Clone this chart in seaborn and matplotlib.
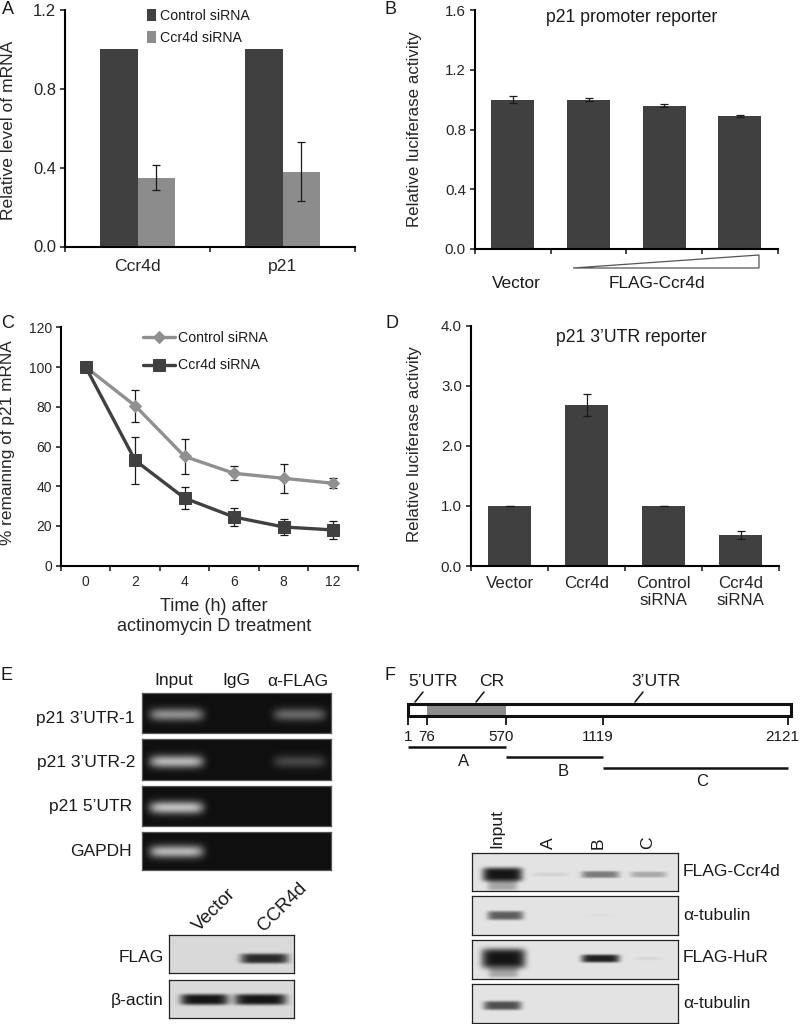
import numpy as np
import pandas as pd
import matplotlib
matplotlib.use("Agg")
import matplotlib.pyplot as plt
from matplotlib.lines import Line2D
from matplotlib.patches import Polygon, Rectangle
from matplotlib.transforms import Affine2D
import seaborn as sns

sns.set_style("white")
plt.rcParams["font.family"] = ["Liberation Sans", "DejaVu Sans"]
plt.rcParams["text.color"] = "#1a1a1a"

# panel A
genes = ["Ccr4d", "p21"]
a_control = [1.0, 1.0]
a_knockdown = [0.35, 0.38]
a_knockdown_err = [0.065, 0.15]

# panel B
b_groups = ["Vector", "Low", "Mid", "High"]
b_values = [1.0, 1.0, 0.96, 0.89]
b_err = [0.025, 0.008, 0.012, 0.006]

# panel C
hours = ["0", "2", "4", "6", "8", "12"]
c_control = [100, 80.5, 55, 46.5, 44, 41.5]
c_control_err = [0, 8, 8.7, 3.5, 7.3, 2.5]
c_knockdown = [100, 53, 34, 24.5, 19.5, 18]
c_knockdown_err = [0, 12, 5.5, 4.5, 3.8, 4.5]

# panel D
d_groups = ["Vector", "Ccr4d", "Control\nsiRNA", "Ccr4d\nsiRNA"]
d_values = [1.0, 2.68, 1.0, 0.52]
d_err = [0.005, 0.18, 0.005, 0.07]

# panel E, band strength per gel row: input lane, FLAG lane
e_rows = ["p21 3\u2019UTR-1", "p21 3\u2019UTR-2", "p21 5\u2019UTR", "GAPDH"]
e_input = [0.52, 0.68, 0.72, 0.68]
e_flag = [0.36, 0.22, 0.0, 0.0]
e_vector_flag = [0.0, 0.9]
e_actin = [1.0, 1.0]

# panel F, nucleotide sites and where they sit along the drawn bar
f_sites = [1, 76, 570, 1119, 2121]
f_site_px = [408, 427, 506, 603, 788]
f_ccr4d = [1.0, 0.08, 0.5, 0.28]
f_tub1 = [0.65, 0.0, 0.02, 0.0]
f_hur = [1.0, 0.0, 0.95, 0.05]
f_tub2 = [0.72, 0.0, 0.0, 0.0]

DARK = "#404040"
LIGHT = "#8c8c8c"

fig = plt.figure(figsize=(8, 10.24), dpi=100)
pxt = Affine2D().scale(1 / 800, -1 / 1024).translate(0, 1) + fig.transFigure


def px_axes(left, top, right, bottom):
    return fig.add_axes([left / 800, 1 - bottom / 1024, (right - left) / 800, (bottom - top) / 1024])


def txt(x, y, s, size=12.6, ha="center", **kw):
    fig.text(x, y, s, transform=pxt, fontsize=size, ha=ha, va="center", **kw)


def style_axes(ax, ylim, yticks, tick_size, n_groups, xpad):
    sns.despine(ax=ax)
    ax.set_ylim(*ylim)
    ax.set_xlim(-0.5, n_groups - 0.5)
    ax.set_yticks(yticks)
    ax.set_yticklabels([("%.1f" % t) if ylim[1] < 10 else str(t) for t in yticks])
    ax.set_xticks(np.arange(n_groups + 1) - 0.5, minor=True)
    for side in ["left", "bottom"]:
        ax.spines[side].set_color("black")
        ax.spines[side].set_linewidth(1.5)
    ax.tick_params(axis="y", direction="out", left=True, length=3.5, width=1.2, labelsize=tick_size, pad=3)
    ax.tick_params(axis="x", which="major", bottom=False, length=0, pad=xpad)
    ax.tick_params(axis="x", which="minor", bottom=True, direction="out", length=3.5, width=1.2)
    ax.set_xlabel("")


def add_errs(ax, container, errs):
    xs = [b.get_x() + b.get_width() / 2 for b in container]
    ys = [b.get_height() for b in container]
    ax.errorbar(xs, ys, yerr=errs, fmt="none", ecolor="#1a1a1a", elinewidth=0.9, capsize=2.6, capthick=0.9, zorder=5)


# A
ax = px_axes(65, 10, 355, 246.5)
df_a = pd.DataFrame({
    "gene": genes * 2,
    "level": a_control + a_knockdown,
    "treat": ["Control siRNA"] * 2 + ["Ccr4d siRNA"] * 2,
})
sns.barplot(data=df_a, x="gene", y="level", hue="treat", palette=[DARK, LIGHT], width=0.524, gap=0,
            errorbar=None, linewidth=0, ax=ax)
add_errs(ax, ax.containers[1], a_knockdown_err)
style_axes(ax, (0, 1.2), [0, 0.4, 0.8, 1.2], 12, 2, 9)
ax.tick_params(axis="x", which="major", labelsize=12.6)
ax.set_ylabel("Relative level of mRNA", fontsize=12.6, va="center")
ax.yaxis.set_label_coords(8.5, 130, transform=pxt)
ax.legend(loc="upper left", bbox_to_anchor=(147, 9), bbox_transform=pxt, frameon=False, fontsize=10.2,
          handlelength=0.65, handleheight=0.9, handletextpad=0.25, labelspacing=0.55, borderpad=0, borderaxespad=0)

# B
ax = px_axes(475, 10, 777.7, 249)
sns.barplot(x=b_groups, y=b_values, color=DARK, width=0.565, errorbar=None, linewidth=0, ax=ax)
add_errs(ax, ax.containers[0], b_err)
style_axes(ax, (0, 1.6), [0, 0.4, 0.8, 1.2, 1.6], 10.8, 4, 9)
ax.set_xticklabels([])
ax.set_ylabel("Relative luciferase activity", fontsize=12.2, va="center")
ax.yaxis.set_label_coords(415, 129, transform=pxt)
txt(632, 18, "p21 promoter reporter", 12.7)
txt(516, 283, "Vector", 12.4)
txt(657, 283, "FLAG-Ccr4d", 12.4)
fig.add_artist(Polygon([(573, 268), (759, 255), (759, 268)], closed=True, fill=False, edgecolor="#555555",
                       linewidth=0.9, transform=pxt))

# C
ax = px_axes(61, 327.3, 357.7, 565.7)
for vals, errs, col, mark, name in [(c_control, c_control_err, "#909090", "D", "Control siRNA"),
                                    (c_knockdown, c_knockdown_err, DARK, "s", "Ccr4d siRNA")]:
    ax.errorbar(hours, vals, yerr=errs, fmt="none", ecolor="#1a1a1a", elinewidth=0.9, capsize=2.6, capthick=0.9)
    sns.lineplot(x=hours, y=vals, color=col, marker=mark, markersize=6.2 if mark == "D" else 8.6, linewidth=2.4,
                 markeredgecolor=col, label=name, sort=False, ax=ax)
style_axes(ax, (0, 120), [0, 20, 40, 60, 80, 100, 120], 10, 6, 7)
ax.tick_params(axis="x", which="major", labelsize=10)
ax.set_ylabel("% remaining of p21 mRNA", fontsize=12.4, va="center")
ax.yaxis.set_label_coords(8, 443, transform=pxt)
ax.set_xlabel("Time (h) after\nactinomycin D treatment", fontsize=13, va="center", linespacing=1.3)
ax.xaxis.set_label_coords(214, 616.5, transform=pxt)
ax.legend(loc="upper left", bbox_to_anchor=(143, 331), bbox_transform=pxt, frameon=False, fontsize=10.2,
          handlelength=2.25, handletextpad=0.25, labelspacing=0.95, borderpad=0, borderaxespad=0)

# D
ax = px_axes(471, 325.7, 779.3, 566)
sns.barplot(x=d_groups, y=d_values, color=DARK, width=0.556, errorbar=None, linewidth=0, ax=ax)
add_errs(ax, ax.containers[0], d_err)
style_axes(ax, (0, 4), [0, 1, 2, 3, 4], 10.8, 4, 7)
ax.tick_params(axis="x", which="major", labelsize=12.2)
ax.set_ylabel("Relative luciferase activity", fontsize=12.2, va="center")
ax.yaxis.set_label_coords(415, 444, transform=pxt)
txt(631, 338, "p21 3\u2019UTR reporter", 12.7)

# panel letters
for x, y, letter in [(8, 9, "A"), (391, 9, "B"), (8, 324, "C"), (392, 324, "D"), (6, 675, "E"), (390, 675, "F")]:
    txt(x, y, letter, 13)


def band_image(w, h, bands, base, dark_bands):
    # bands are (lane centre, half width, row centre, half height, strength)
    yy, xx = np.mgrid[0:h, 0:w]
    shade = np.zeros((h, w))
    power = 4 if dark_bands else 2
    for cx, hw, cy, hh, s in bands:
        shade += s * np.exp(-((xx - cx) / hw) ** 6) * np.exp(-((yy - cy) / hh) ** power)
    shade = np.clip(shade, 0, 1)
    if dark_bands:
        return np.clip(base - shade * (base - 0.08), 0, 1)
    return np.clip(base + shade * (1 - base), 0, 1)


def gel_panel(box, bands, base, dark_bands, edge):
    left, top, right, bottom = box
    ax = px_axes(left, top, right, bottom)
    img = band_image(int(right - left), int(bottom - top), bands, base, dark_bands)
    sns.heatmap(img, ax=ax, cmap="gray", vmin=0, vmax=1, cbar=False, xticklabels=False, yticklabels=False)
    for side in ax.spines.values():
        side.set_visible(True)
        side.set_color(edge)
        side.set_linewidth(0.9)


# E, RNA gels
e_boxes = [(142, 693, 331, 733), (142, 739, 331, 780), (142, 786, 331, 826), (142, 832, 331, 870)]
e_label_y = [719, 763, 807, 852]
e_label_x = [134, 135, 132, 132]
e_band_y = [21, 22, 21, 19]
for i, box in enumerate(e_boxes):
    bands = [(34, 27, e_band_y[i], 6.5, e_input[i])]
    if e_flag[i] > 0:
        bands.append((157, 26, e_band_y[i], 6.5, e_flag[i]))
    gel_panel(box, bands, 0.06, False, "#555555")
    txt(e_label_x[i], e_label_y[i], e_rows[i], 12.5, ha="right")
txt(174, 681, "Input", 12.5)
txt(236, 681, "IgG", 12.5)
txt(298, 681, "\u03b1-FLAG", 12.5)

# E, western
gel_panel((169, 935, 294, 973), [(95, 24, 23, 5, e_vector_flag[1])], 0.85, True, "#222222")
gel_panel((169, 980, 294, 1018), [(35, 24, 19, 5.5, e_actin[0]), (91, 26, 19, 5.5, e_actin[1])], 0.85, True, "#222222")
txt(164, 957, "FLAG", 12.5, ha="right")
txt(164, 1000, "\u03b2-actin", 12.5, ha="right")
fig.text(214, 910, "Vector", transform=pxt, fontsize=13.5, rotation=45, ha="center", va="center")
fig.text(282, 907, "CCR4d", transform=pxt, fontsize=13.5, rotation=45, ha="center", va="center")

# F, transcript map
ax = px_axes(408, 690, 788, 785)
ax.set_xscale("function", functions=(lambda v: np.interp(v, f_sites, f_site_px),
                                     lambda p: np.interp(p, f_site_px, f_sites)))
ax.set_xlim(f_sites[0], f_sites[-1])
ax.set_ylim(0, 1)
ax.axis("off")
ax.add_patch(Rectangle((76, 0.73), 570 - 76, 0.11, facecolor="#8c8c8c", edgecolor="none"))
fig.add_artist(Rectangle((407.5, 703.5), 383, 12.5, fill=False, edgecolor="#111111", linewidth=2.2, transform=pxt))
ax.vlines(f_sites, 0.63, 0.72, color="#111111", linewidth=1.3, clip_on=False)
ax.hlines(0.40, 1, 570, color="#111111", linewidth=1.8, clip_on=False)
ax.hlines(0.29, 570, 1119, color="#111111", linewidth=1.8)
ax.hlines(0.18, 1119, 2121, color="#111111", linewidth=1.8, clip_on=False)
for x0 in [415, 476, 635]:
    fig.add_artist(Line2D([x0, x0 + 8], [702, 692], color="#111111", linewidth=1.1, transform=pxt))
txt(433, 682, "5\u2019UTR")
txt(492, 682, "CR")
txt(656, 682, "3\u2019UTR")
for x, s in zip([408, 427, 501, 598, 782], f_sites):
    txt(x, 737, str(s), 11)
for x, y, s in [(464, 761, "A"), (563, 771, "B"), (702, 781, "C")]:
    txt(x, y, s, 12)

# F, westerns
f_input_lane = [30, 33, 31, 30]
f_lanes = [78, 128, 176]
f_widths = [[20, 18, 19, 18], [18, 18, 18, 18], [22, 18, 19, 14], [19, 18, 18, 18]]
f_boxes = [(472, 853, 678, 891), (472, 896, 678, 935), (472, 940, 678, 979), (472, 984, 678, 1023)]
f_rows = [f_ccr4d, f_tub1, f_hur, f_tub2]
f_y = [21, 19, 18, 21]
f_h = [[7, 2, 3.5, 3], [4.5, 2, 2, 2], [10, 2, 4, 2], [4.5, 2, 2, 2]]
f_names = ["FLAG-Ccr4d", "\u03b1-tubulin", "FLAG-HuR", "\u03b1-tubulin"]
f_label_y = [872, 915, 957, 1003]
for i, box in enumerate(f_boxes):
    lanes = [f_input_lane[i]] + f_lanes
    bands = [(lanes[j], f_widths[i][j], f_y[i], f_h[i][j], f_rows[i][j]) for j in range(4) if f_rows[i][j] > 0]
    if i in (0, 2):
        bands.append((lanes[0], 15, f_y[i] + (11 if i == 0 else 14), 5, 0.3))
    gel_panel(box, bands, 0.89, True, "#222222")
    txt(683, f_label_y[i], f_names[i], 12.6, ha="left")
fig.text(497, 828, "Input", transform=pxt, fontsize=12.6, rotation=90, ha="center", va="center")
for x, s in zip([548, 598, 648], ["A", "B", "C"]):
    fig.text(x, 843, s, transform=pxt, fontsize=12.6, rotation=90, ha="center", va="center")

fig.savefig("out.png", dpi=100)
